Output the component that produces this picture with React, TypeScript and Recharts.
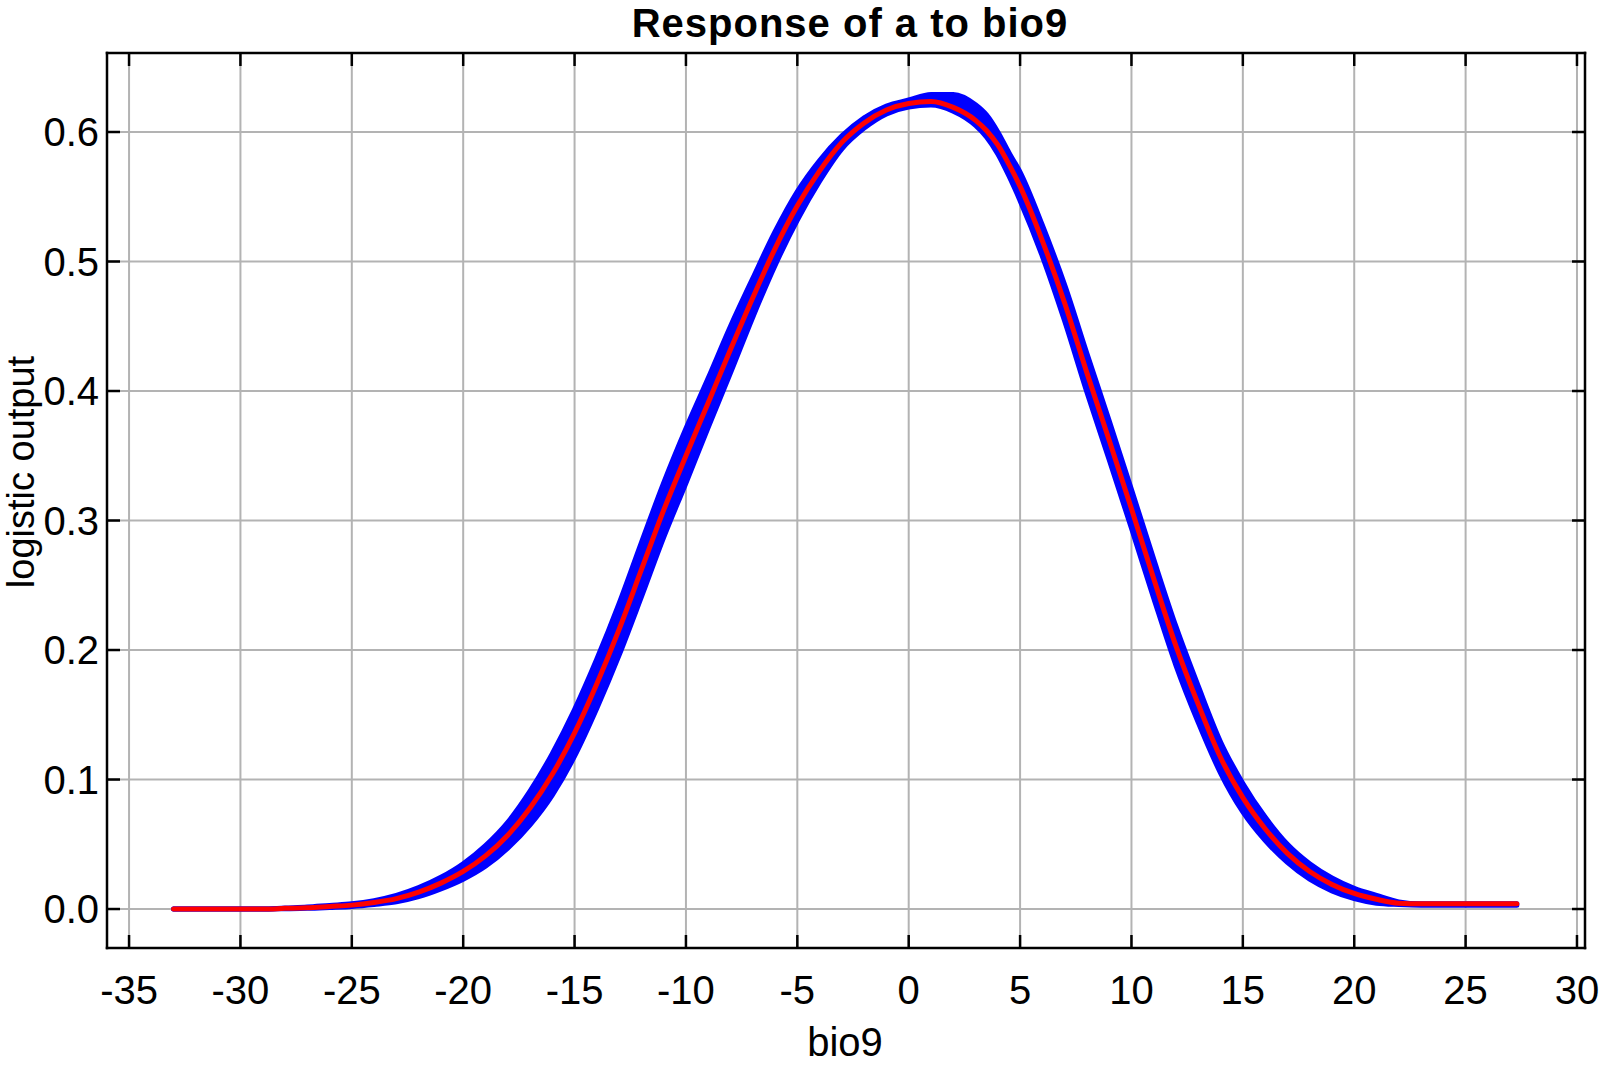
import React from 'react';
import { ComposedChart, Line, Area, XAxis, YAxis, CartesianGrid } from 'recharts';

const chartTitle = 'Response of a to bio9';
const xAxisTitle = 'bio9';
const yAxisTitle = 'logistic output';

const xTicks = [-35, -30, -25, -20, -15, -10, -5, 0, 5, 10, 15, 20, 25, 30];
const yTicks = [0, 0.1, 0.2, 0.3, 0.4, 0.5, 0.6];

const bio9 = [
  -33, -31, -29, -28, -27, -26, -25, -24, -23, -22, -21, -20, -19, -18, -17, -16, -15, -14, -13, -12,
  -11, -10, -9, -8, -7, -6, -5, -4, -3, -2, -1, 0, 1, 2, 3, 3.5, 4, 4.5, 5, 6,
  7, 8, 9, 10, 11, 12, 13, 14, 15, 16, 17, 18, 19, 20, 21, 22, 23, 25, 27.3,
];

const meanOutput = [
  0, 0, 0, 0.0005, 0.001, 0.002, 0.003, 0.005, 0.008, 0.013, 0.02, 0.029, 0.041, 0.057, 0.078, 0.104, 0.136, 0.174, 0.216, 0.262,
  0.308, 0.35, 0.391, 0.432, 0.472, 0.51, 0.543, 0.57, 0.592, 0.607, 0.617, 0.622, 0.6235, 0.619, 0.609, 0.601, 0.59, 0.575, 0.558, 0.516,
  0.468, 0.414, 0.362, 0.309, 0.255, 0.203, 0.158, 0.117, 0.086, 0.062, 0.043, 0.029, 0.019, 0.012, 0.0075, 0.0045, 0.004, 0.004, 0.004,
];

const lowerOutput = [
  0, 0, 0, 0.0002, 0.0005, 0.0012, 0.002, 0.0035, 0.0055, 0.0095, 0.0155, 0.023, 0.033, 0.047, 0.065, 0.088, 0.118, 0.155, 0.196, 0.241,
  0.287, 0.329, 0.372, 0.414, 0.457, 0.497, 0.532, 0.562, 0.587, 0.603, 0.614, 0.6193, 0.6208, 0.616, 0.605, 0.596, 0.583, 0.566, 0.547, 0.504,
  0.454, 0.399, 0.347, 0.294, 0.24, 0.188, 0.144, 0.105, 0.075, 0.053, 0.036, 0.023, 0.014, 0.008, 0.0045, 0.0035, 0.003, 0.003, 0.003,
];

const upperOutput = [
  0, 0, 0, 0.0008, 0.0015, 0.0028, 0.004, 0.0065, 0.0105, 0.0165, 0.0245, 0.035, 0.049, 0.067, 0.091, 0.12, 0.154, 0.193, 0.236, 0.283,
  0.329, 0.371, 0.41, 0.45, 0.487, 0.523, 0.554, 0.578, 0.597, 0.611, 0.62, 0.6247, 0.629, 0.629, 0.621, 0.613, 0.6, 0.584, 0.569, 0.528,
  0.482, 0.429, 0.377, 0.324, 0.27, 0.218, 0.172, 0.129, 0.097, 0.071, 0.05, 0.035, 0.024, 0.016, 0.0105, 0.0055, 0.004, 0.004, 0.004,
];

const data = bio9.map((x, i) => ({
  x,
  mean: meanOutput[i],
  lower: lowerOutput[i],
  upper: upperOutput[i],
  band: [lowerOutput[i], upperOutput[i]],
}));

const FONT = "'Liberation Sans', Arial, Helvetica, sans-serif";
const TICK_LEN = 13;
const TICK_FONT = 40;

const BottomTick = (props: any) => {
  const { x, y, payload } = props;
  return (
    <g>
      <line x1={x} x2={x} y1={y} y2={y - TICK_LEN} stroke="#000" strokeWidth={2.5} />
      <text x={x} y={y + 56} textAnchor="middle" fontSize={TICK_FONT} fontFamily={FONT} fill="#000">
        {String(payload.value)}
      </text>
    </g>
  );
};

const TopTick = (props: any) => {
  const { x, y } = props;
  return <line x1={x} x2={x} y1={y} y2={y + TICK_LEN} stroke="#000" strokeWidth={2.5} />;
};

const LeftTick = (props: any) => {
  const { x, y, payload } = props;
  return (
    <g>
      <line x1={x} x2={x + TICK_LEN} y1={y} y2={y} stroke="#000" strokeWidth={2.5} />
      <text x={x - 8} y={y + 14.4} textAnchor="end" fontSize={TICK_FONT} fontFamily={FONT} fill="#000">
        {Number(payload.value).toFixed(1)}
      </text>
    </g>
  );
};

const RightTick = (props: any) => {
  const { x, y } = props;
  return <line x1={x} x2={x - TICK_LEN} y1={y} y2={y} stroke="#000" strokeWidth={2.5} />;
};

const X_DOMAIN: [number, number] = [-35.99, 30.36];
const Y_DOMAIN: [number, number] = [-0.0301, 0.661];
const frame = { stroke: '#000', strokeWidth: 2.5, strokeLinecap: 'square' as const };

export default function App() {
  return (
    <div style={{ position: 'absolute', left: 0, top: 0, width: 1600, height: 1069, background: '#fff' }}>
      <ComposedChart
        width={1600}
        height={1069}
        data={data}
        margin={{ top: 52, right: 14, bottom: 11, left: 7 }}
      >
        <CartesianGrid xAxisId="b" yAxisId="l" stroke="#b3b3b3" strokeWidth={2} />
        <XAxis
          xAxisId="b"
          dataKey="x"
          type="number"
          domain={X_DOMAIN}
          ticks={xTicks}
          interval={0}
          allowDataOverflow
          height={110}
          tickLine={false}
          tickSize={0}
          tickMargin={0}
          axisLine={frame}
          tick={BottomTick}
        />
        <XAxis
          xAxisId="t"
          orientation="top"
          dataKey="x"
          type="number"
          domain={X_DOMAIN}
          ticks={xTicks}
          interval={0}
          allowDataOverflow
          height={1}
          tickLine={false}
          tickSize={0}
          tickMargin={0}
          axisLine={frame}
          tick={TopTick}
        />
        <YAxis
          yAxisId="l"
          type="number"
          domain={Y_DOMAIN}
          ticks={yTicks}
          interval={0}
          allowDataOverflow
          width={100}
          tickLine={false}
          tickSize={0}
          tickMargin={0}
          axisLine={frame}
          tick={LeftTick}
        />
        <YAxis
          yAxisId="r"
          orientation="right"
          type="number"
          domain={Y_DOMAIN}
          ticks={yTicks}
          interval={0}
          allowDataOverflow
          width={1}
          tickLine={false}
          tickSize={0}
          tickMargin={0}
          axisLine={frame}
          tick={RightTick}
        />
        <Area
          xAxisId="b"
          yAxisId="l"
          dataKey="band"
          type="monotone"
          fill="#0000ff"
          fillOpacity={1}
          stroke="none"
          isAnimationActive={false}
          activeDot={false}
        />
        <Line
          xAxisId="b"
          yAxisId="l"
          dataKey="upper"
          type="monotone"
          stroke="#0000ff"
          strokeWidth={5}
          strokeLinecap="round"
          dot={false}
          activeDot={false}
          isAnimationActive={false}
        />
        <Line
          xAxisId="b"
          yAxisId="l"
          dataKey="lower"
          type="monotone"
          stroke="#0000ff"
          strokeWidth={5}
          strokeLinecap="round"
          dot={false}
          activeDot={false}
          isAnimationActive={false}
        />
        <Line
          xAxisId="b"
          yAxisId="l"
          dataKey="mean"
          type="monotone"
          stroke="#ff0000"
          strokeWidth={5}
          strokeLinecap="round"
          dot={false}
          activeDot={false}
          isAnimationActive={false}
        />
      </ComposedChart>
      <svg
        width={1600}
        height={1069}
        style={{ position: 'absolute', left: 0, top: 0, pointerEvents: 'none' }}
      >
        <text x={850} y={37} textAnchor="middle" fontSize={40} fontWeight="bold" letterSpacing={1} fontFamily={FONT} fill="#000">
          {chartTitle}
        </text>
        <text x={845} y={1056} textAnchor="middle" fontSize={TICK_FONT} fontFamily={FONT} fill="#000">
          {xAxisTitle}
        </text>
        <text
          x={21}
          y={472}
          transform="rotate(-90 21 472)"
          textAnchor="middle"
          dominantBaseline="central"
          fontSize={38}
          fontFamily={FONT}
          fill="#000"
        >
          {yAxisTitle}
        </text>
      </svg>
    </div>
  );
}
